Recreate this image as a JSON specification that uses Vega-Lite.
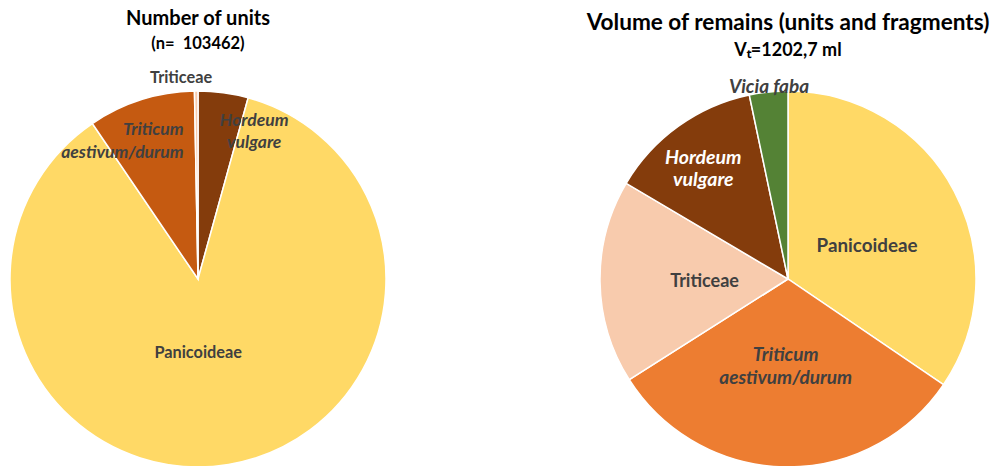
{
  "$schema": "https://vega.github.io/schema/vega-lite/v6.json",
  "padding": {"left": 7, "top": 8, "right": 0, "bottom": 0},
  "spacing": 197,
  "config": {
    "view": {"stroke": null},
    "font": "Lato",
    "title": {"anchor": "middle", "fontWeight": "bold", "color": "#000000", "font": "Lato", "subtitleFont": "Lato", "subtitleFontWeight": "bold", "subtitleColor": "#000000", "subtitlePadding": 7, "offset": 18},
    "text": {"font": "Lato", "fontWeight": "bold", "color": "#404040", "lineBreak": "\n", "lineHeight": 23}
  },
  "resolve": {"scale": {"color": "independent", "theta": "independent"}},
  "hconcat": [
    {
      "width": 376,
      "height": 376,
      "title": {"text": "Number of units", "subtitle": "(n=\u00a0 103462)", "fontSize": 20, "subtitleFontSize": 16.5},
      "data": {"values": [
        {"taxon": "Hordeum vulgare", "label": "Hordeum\nvulgare", "o": 1, "pct": 4.3},
        {"taxon": "Panicoideae", "label": "Panicoideae", "o": 2, "pct": 86.2},
        {"taxon": "Triticum aestivum/durum", "label": "Triticum\naestivum/durum", "o": 3, "pct": 9.2},
        {"taxon": "Triticeae", "label": "Triticeae", "o": 4, "pct": 0.3}
      ]},
      "encoding": {
        "theta": {"field": "pct", "type": "quantitative", "stack": true},
        "order": {"field": "o", "type": "quantitative"}
      },
      "layer": [
        {
          "mark": {"type": "arc", "outerRadius": 188, "stroke": "white", "strokeWidth": 1.5},
          "encoding": {"color": {"field": "taxon", "type": "nominal", "legend": null,
            "scale": {"domain": ["Hordeum vulgare", "Panicoideae", "Triticum aestivum/durum", "Triticeae"], "range": ["#843C0C", "#FFD966", "#C55A11", "#F8CBAD"]}}}
        },
        {
          "mark": {"type": "text", "radius": 75, "dx": -12, "fontSize": 16.3},
          "encoding": {"text": {"condition": {"test": "datum.taxon === 'Panicoideae'", "field": "label"}, "value": ""}}
        },
        {
          "mark": {"type": "text", "radius": 150, "dx": 36, "dy": -9.5, "fontStyle": "italic", "fontSize": 17.5, "lineHeight": 22},
          "encoding": {"text": {"condition": {"test": "datum.taxon === 'Hordeum vulgare'", "field": "label"}, "value": ""}}
        },
        {
          "mark": {"type": "text", "radius": 140, "dx": 28, "dy": -16, "align": "right", "fontStyle": "italic", "fontSize": 17.5},
          "encoding": {"text": {"condition": {"test": "datum.taxon === 'Triticum aestivum/durum'", "field": "label"}, "value": ""}}
        },
        {
          "mark": {"type": "text", "radius": 201, "dx": -15, "fontSize": 16.3},
          "encoding": {"text": {"condition": {"test": "datum.taxon === 'Triticeae'", "field": "label"}, "value": ""}}
        }
      ]
    },
    {
      "width": 376,
      "height": 376,
      "title": {"text": "Volume of remains (units and fragments)", "subtitle": "Vₜ=1202,7 ml", "fontSize": 22.6, "subtitleFontSize": 18},
      "data": {"values": [
        {"taxon": "Panicoideae", "label": "Panicoideae", "o": 1, "pct": 34.5},
        {"taxon": "Triticum aestivum/durum", "label": "Triticum\naestivum/durum", "o": 2, "pct": 31.5},
        {"taxon": "Triticeae", "label": "Triticeae", "o": 3, "pct": 17.5},
        {"taxon": "Hordeum vulgare", "label": "Hordeum\nvulgare", "o": 4, "pct": 13.2},
        {"taxon": "Vicia faba", "label": "Vicia faba", "o": 5, "pct": 3.3}
      ]},
      "encoding": {
        "theta": {"field": "pct", "type": "quantitative", "stack": true},
        "order": {"field": "o", "type": "quantitative"}
      },
      "layer": [
        {
          "mark": {"type": "arc", "outerRadius": 188, "stroke": "white", "strokeWidth": 1.5},
          "encoding": {"color": {"field": "taxon", "type": "nominal", "legend": null,
            "scale": {"domain": ["Panicoideae", "Triticum aestivum/durum", "Triticeae", "Hordeum vulgare", "Vicia faba"], "range": ["#FFD966", "#ED7D31", "#F8CBAD", "#843C0C", "#548235"]}}}
        },
        {
          "mark": {"type": "text", "radius": 86, "dx": 3, "dy": 7, "fontSize": 18.8},
          "encoding": {"text": {"condition": {"test": "datum.taxon === 'Panicoideae'", "field": "label"}, "value": ""}}
        },
        {
          "mark": {"type": "text", "radius": 84, "dx": -1, "dy": -8, "fontStyle": "italic", "fontSize": 19, "lineHeight": 23},
          "encoding": {"text": {"condition": {"test": "datum.taxon === 'Triticum aestivum/durum'", "field": "label"}, "value": ""}}
        },
        {
          "mark": {"type": "text", "radius": 84, "dx": 0.5, "dy": 2, "fontSize": 18},
          "encoding": {"text": {"condition": {"test": "datum.taxon === 'Triticeae'", "field": "label"}, "value": ""}}
        },
        {
          "mark": {"type": "text", "radius": 142, "dx": -2, "dy": -5.5, "fontStyle": "italic", "color": "white", "fontSize": 19.5, "lineHeight": 22},
          "encoding": {"text": {"condition": {"test": "datum.taxon === 'Hordeum vulgare'", "field": "label"}, "value": ""}}
        },
        {
          "mark": {"type": "text", "radius": 193, "dx": 1, "dy": 0, "fontStyle": "italic", "fontSize": 19},
          "encoding": {"text": {"condition": {"test": "datum.taxon === 'Vicia faba'", "field": "label"}, "value": ""}}
        }
      ]
    }
  ]
}
